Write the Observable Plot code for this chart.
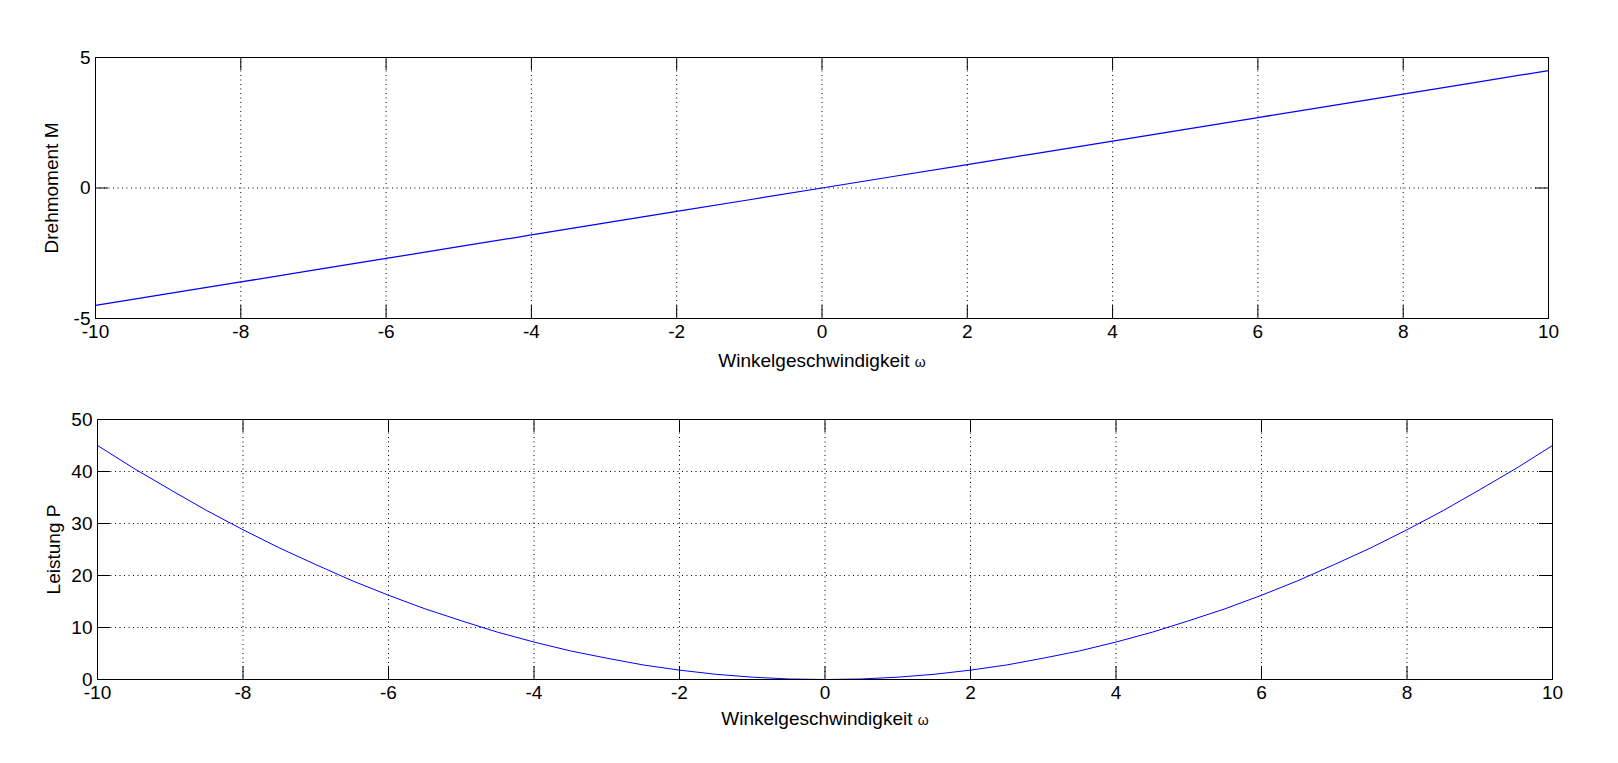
<!DOCTYPE html>
<html>
<head>
<meta charset="utf-8">
<script src="https://cdn.jsdelivr.net/npm/d3@7"></script>
<script src="https://cdn.jsdelivr.net/npm/@observablehq/plot@0.6"></script>
<style>
  html, body { margin: 0; padding: 0; background: #fff; }
  #chart { width: 1618px; }
  #chart svg { display: block; }
</style>
</head>
<body>
<div id="chart"></div>
<script>
// ---- data ----
const omegaTop = [-10,-9,-8,-7,-6,-5,-4,-3,-2,-1,0,1,2,3,4,5,6,7,8,9,10];
const torqueM  = [-4.5,-4.05,-3.6,-3.15,-2.7,-2.25,-1.8,-1.35,-0.9,-0.45,0,0.45,0.9,1.35,1.8,2.25,2.7,3.15,3.6,4.05,4.5];

const omegaBot = [-10,-9.5,-9,-8.5,-8,-7.5,-7,-6.5,-6,-5.5,-5,-4.5,-4,-3.5,-3,-2.5,-2,-1.5,-1,-0.5,0,
                  0.5,1,1.5,2,2.5,3,3.5,4,4.5,5,5.5,6,6.5,7,7.5,8,8.5,9,9.5,10];
const powerP   = [45,40.6,36.5,32.5,28.8,25.3,22.1,19,16.2,13.6,11.3,9.1,7.2,5.5,4.1,2.8,1.8,1,0.45,0.1,0,
                  0.1,0.45,1,1.8,2.8,4.1,5.5,7.2,9.1,11.3,13.6,16.2,19,22.1,25.3,28.8,32.5,36.5,40.6,45];

const xTicks    = [-10,-8,-6,-4,-2,0,2,4,6,8,10];
const yTicksTop = [-5,0,5];
const yTicksBot = [0,10,20,30,40,50];

const xLabel = "Winkelgeschwindigkeit ω";
const yLabelTop = "Drehmoment M";
const yLabelBot = "Leistung P";

const topRows = omegaTop.map((w, i) => ({w, v: torqueM[i]}));
const botRows = omegaBot.map((w, i) => ({w, v: powerP[i]}));

function panel({rows, yDomain, yTicks, yLabel, height, mt, mb, ml, mr, lineWidth, tickLabelGap, axisLabelGap}) {
  const W = 1618;
  const fw = W - ml - mr;
  const fh = height - mt - mb;
  const T = 13;
  const dots = "1,3.5";
  const FS = 19;
  return Plot.plot({
    width: W, height,
    marginTop: mt, marginBottom: mb, marginLeft: ml, marginRight: mr,
    style: {fontFamily: "'Liberation Sans', Arial, sans-serif", fontSize: FS + "px", color: "black", background: "white", overflow: "visible"},
    x: {domain: [-10, 10], ticks: xTicks},
    y: {domain: yDomain, ticks: yTicks},
    marks: [
      Plot.ruleX(xTicks.slice(1, -1), {stroke: "black", strokeWidth: 1, strokeDasharray: dots}),
      Plot.ruleY(yTicks.slice(1, -1), {stroke: "black", strokeWidth: 1, strokeDasharray: dots}),
      Plot.ruleX(xTicks, {stroke: "black", insetTop: fh - T}),
      Plot.ruleX(xTicks, {stroke: "black", insetBottom: fh - T}),
      Plot.ruleY(yTicks, {stroke: "black", insetRight: fw - T}),
      Plot.ruleY(yTicks, {stroke: "black", insetLeft: fw - T}),
      Plot.line(rows, {x: "w", y: "v", stroke: "#0000ff", strokeWidth: lineWidth}),
      Plot.frame({stroke: "black", strokeWidth: 1}),
      Plot.axisX(xTicks, {tickSize: 0, tickPadding: tickLabelGap, fontSize: FS, label: null, tickFormat: d => String(d)}),
      Plot.axisY(yTicks, {tickSize: 0, tickPadding: 5, fontSize: FS, label: null, tickFormat: d => String(d)}),
      Plot.text([xLabel], {frameAnchor: "bottom", dy: axisLabelGap, lineAnchor: "bottom", fontSize: FS, fill: "black"}),
      Plot.text([yLabel], {frameAnchor: "left", dx: -44, rotate: -90, lineAnchor: "middle", textAnchor: "middle", fontSize: FS, fill: "black"})
    ]
  });
}

const plotTop = panel({rows: topRows, yDomain: [-5, 5], yTicks: yTicksTop, yLabel: yLabelTop,
  height: 381, mt: 57, mb: 63, ml: 95, mr: 70, lineWidth: 1.25, tickLabelGap: 6, axisLabelGap: 48});
const plotBot = panel({rows: botRows, yDomain: [0, 50], yTicks: yTicksBot, yLabel: yLabelBot,
  height: 382, mt: 38, mb: 84, ml: 97, mr: 66, lineWidth: 1, tickLabelGap: 6, axisLabelGap: 45});

const el = document.getElementById("chart");
el.appendChild(plotTop);
el.appendChild(plotBot);

// render the omega as a small symbol like the original
for (const svg of [plotTop, plotBot]) {
  d3.select(svg).selectAll("text").each(function () {
    if (this.textContent === xLabel) {
      const t = d3.select(this);
      t.text("");
      t.append("tspan").text("Winkelgeschwindigkeit ");
      t.append("tspan").attr("font-size", 14).text("ω");
    }
  });
}
</script>
</body>
</html>
